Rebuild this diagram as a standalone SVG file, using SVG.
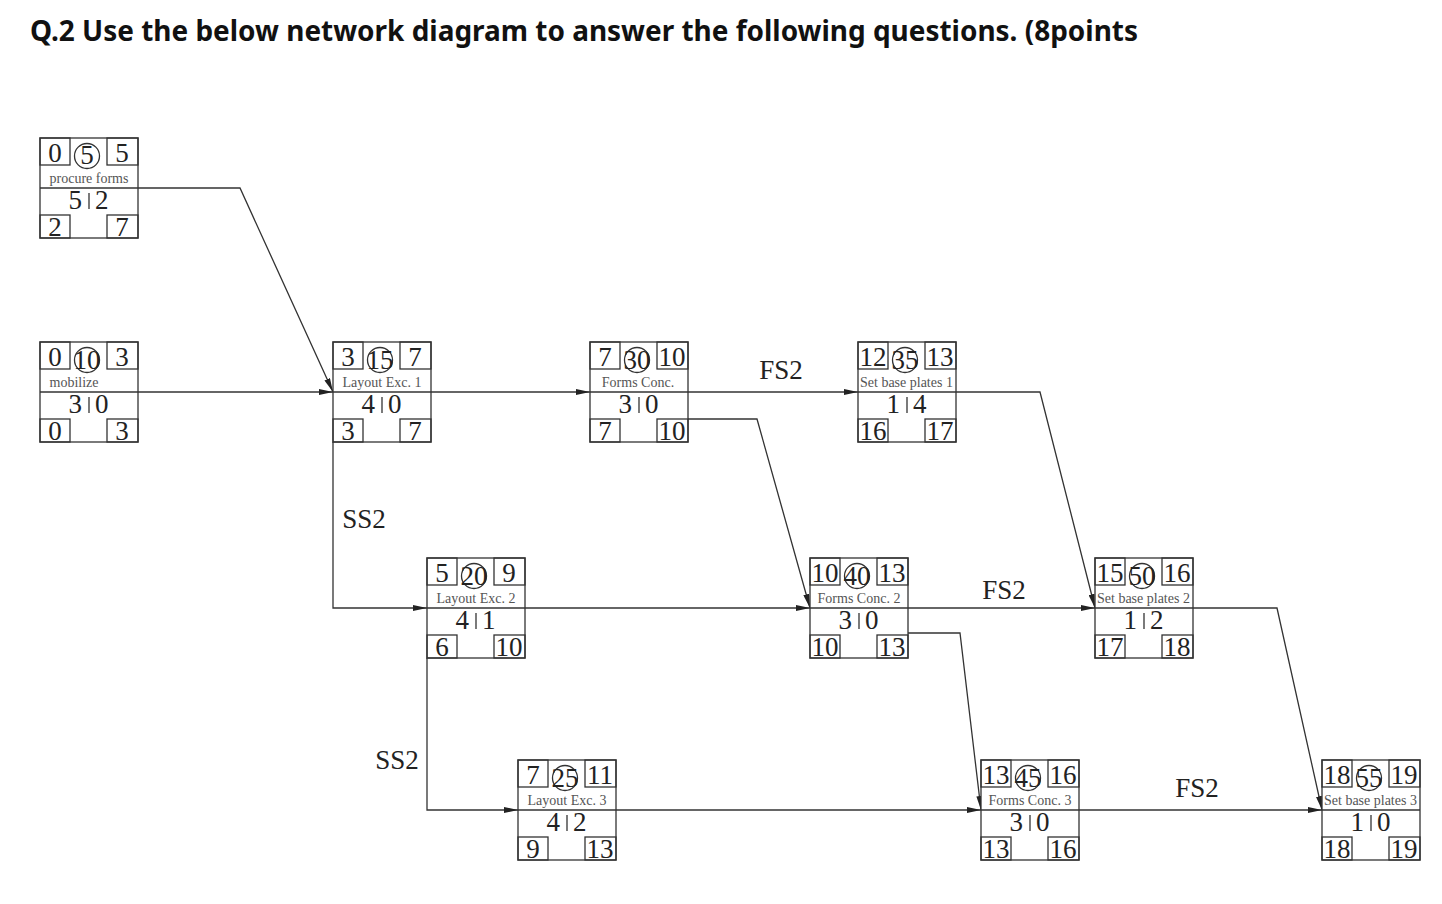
<svg xmlns="http://www.w3.org/2000/svg" width="1442" height="904" viewBox="0 0 1442 904">
<style>
.fr{fill:#fff;stroke:#333;stroke-width:1.3}
.bx{fill:none;stroke:#333;stroke-width:1.3}
.ln{stroke:#333;stroke-width:1.3}
.n{font-family:"Liberation Serif",serif;font-size:27px;fill:#222}
.ne{font-family:"Liberation Serif",serif;font-size:27px;fill:#222;text-anchor:end}
.c{font-family:"Liberation Serif",serif;font-size:27px;fill:#222;text-anchor:middle}
.lb{font-family:"Liberation Serif",serif;font-size:14px;fill:#555;text-anchor:middle}
.lbs{font-family:"Liberation Serif",serif;font-size:14px;fill:#555;text-anchor:start}
.cn{fill:none;stroke:#333;stroke-width:1.3}
.tag{font-family:"Liberation Serif",serif;font-size:27px;fill:#222;text-anchor:middle}
.title{font-family:"Noto Sans","Open Sans",sans-serif;font-weight:bold;font-size:28px;fill:#111}
</style>
<defs>
<marker id="ar" viewBox="0 0 14 6" refX="14" refY="3" markerWidth="14" markerHeight="6" markerUnits="userSpaceOnUse" orient="auto">
<path d="M0,0 L14,3 L0,6 Z" fill="#222"/>
</marker>
<clipPath id="cl" clipPathUnits="userSpaceOnUse"><rect x="0" y="27" width="97" height="23"/></clipPath>
<g id="frame">
<rect class="fr" x="0" y="0" width="98" height="100"/>
<rect class="bx" x="0" y="0" width="30" height="27"/>
<rect class="bx" x="67" y="0" width="31" height="27"/>
<circle class="bx" cx="47" cy="18" r="12.5"/>
<line class="ln" x1="0" y1="50" x2="98" y2="50"/>
<line class="ln" x1="49" y1="55" x2="49" y2="71"/>
<rect class="bx" x="0" y="77" width="30" height="23"/>
<rect class="bx" x="67" y="77" width="31" height="23"/>
</g>
</defs>
<rect width="1442" height="904" fill="#fff"/>
<text class="title" x="30" y="41" textLength="1108" lengthAdjust="spacingAndGlyphs">Q.2 Use the below network diagram to answer the following questions. (8points</text>

<g id="connectors">
<polyline class="cn" points="138,188 240,188 333,392" marker-end="url(#ar)"/>
<line class="cn" x1="138" y1="392" x2="333" y2="392" marker-end="url(#ar)"/>
<line class="cn" x1="431" y1="392" x2="590" y2="392" marker-end="url(#ar)"/>
<line class="cn" x1="688" y1="392" x2="858" y2="392" marker-end="url(#ar)"/>
<polyline class="cn" points="956,392 1040,392 1095,608" marker-end="url(#ar)"/>
<polyline class="cn" points="688,419 757,419 810,608" marker-end="url(#ar)"/>
<polyline class="cn" points="333,442 333,608 427,608" marker-end="url(#ar)"/>
<line class="cn" x1="525" y1="608" x2="810" y2="608" marker-end="url(#ar)"/>
<line class="cn" x1="908" y1="608" x2="1095" y2="608" marker-end="url(#ar)"/>
<polyline class="cn" points="908,633 960,633 981,810" marker-end="url(#ar)"/>
<polyline class="cn" points="427,658 427,810 518,810" marker-end="url(#ar)"/>
<line class="cn" x1="616" y1="810" x2="981" y2="810" marker-end="url(#ar)"/>
<polyline class="cn" points="1193,608 1277,608 1322,810" marker-end="url(#ar)"/>
<line class="cn" x1="1079" y1="810" x2="1322" y2="810" marker-end="url(#ar)"/>
<text class="tag" x="781" y="379">FS2</text>
<text class="tag" x="364" y="528">SS2</text>
<text class="tag" x="1004" y="599">FS2</text>
<text class="tag" x="397" y="769">SS2</text>
<text class="tag" x="1197" y="797">FS2</text>
</g>

<g id="n5" transform="translate(40,138)">
<use href="#frame"/>
<text class="c" x="15" y="24">0</text><text class="c" x="47" y="26" font-size="21">5</text><text class="c" x="82" y="24">5</text>
<text class="lb" x="49" y="45" clip-path="url(#cl)">procure forms</text>
<text class="ne" x="42" y="71">5</text><text class="n" x="55" y="71">2</text>
<text class="c" x="15" y="98">2</text><text class="c" x="82" y="98">7</text>
</g>

<g id="n10" transform="translate(40,342)">
<use href="#frame"/>
<text class="c" x="15" y="24">0</text><text class="c" x="47" y="27">10</text><text class="c" x="82" y="24">3</text>
<text class="lb" x="34" y="45" clip-path="url(#cl)">mobilize</text>
<text class="ne" x="42" y="71">3</text><text class="n" x="55" y="71">0</text>
<text class="c" x="15" y="98">0</text><text class="c" x="82" y="98">3</text>
</g>

<g id="n15" transform="translate(333,342)">
<use href="#frame"/>
<text class="c" x="15" y="24">3</text><text class="c" x="47" y="27">15</text><text class="c" x="82" y="24">7</text>
<text class="lb" x="49" y="45" clip-path="url(#cl)">Layout Exc. 1</text>
<text class="ne" x="42" y="71">4</text><text class="n" x="55" y="71">0</text>
<text class="c" x="15" y="98">3</text><text class="c" x="82" y="98">7</text>
</g>

<g id="n30" transform="translate(590,342)">
<use href="#frame"/>
<text class="c" x="15" y="24">7</text><text class="c" x="47" y="27">30</text><text class="c" x="82" y="24">10</text>
<text class="lb" x="48" y="45" clip-path="url(#cl)">Forms Conc.</text>
<text class="ne" x="42" y="71">3</text><text class="n" x="55" y="71">0</text>
<text class="c" x="15" y="98">7</text><text class="c" x="82" y="98">10</text>
</g>

<g id="n35" transform="translate(858,342)">
<use href="#frame"/>
<text class="c" x="15" y="24">12</text><text class="c" x="47" y="27">35</text><text class="c" x="82" y="24">13</text>
<text class="lbs" x="2" y="45" clip-path="url(#cl)">Set base plates 1</text>
<text class="ne" x="42" y="71">1</text><text class="n" x="55" y="71">4</text>
<text class="c" x="15" y="98">16</text><text class="c" x="82" y="98">17</text>
</g>

<g id="n20" transform="translate(427,558)">
<use href="#frame"/>
<text class="c" x="15" y="24">5</text><text class="c" x="47" y="27">20</text><text class="c" x="82" y="24">9</text>
<text class="lb" x="49" y="45" clip-path="url(#cl)">Layout Exc. 2</text>
<text class="ne" x="42" y="71">4</text><text class="n" x="55" y="71">1</text>
<text class="c" x="15" y="98">6</text><text class="c" x="82" y="98">10</text>
</g>

<g id="n40" transform="translate(810,558)">
<use href="#frame"/>
<text class="c" x="15" y="24">10</text><text class="c" x="47" y="27">40</text><text class="c" x="82" y="24">13</text>
<text class="lb" x="49" y="45" clip-path="url(#cl)">Forms Conc. 2</text>
<text class="ne" x="42" y="71">3</text><text class="n" x="55" y="71">0</text>
<text class="c" x="15" y="98">10</text><text class="c" x="82" y="98">13</text>
</g>

<g id="n50" transform="translate(1095,558)">
<use href="#frame"/>
<text class="c" x="15" y="24">15</text><text class="c" x="47" y="27">50</text><text class="c" x="82" y="24">16</text>
<text class="lbs" x="2" y="45" clip-path="url(#cl)">Set base plates 2</text>
<text class="ne" x="42" y="71">1</text><text class="n" x="55" y="71">2</text>
<text class="c" x="15" y="98">17</text><text class="c" x="82" y="98">18</text>
</g>

<g id="n25" transform="translate(518,760)">
<use href="#frame"/>
<text class="c" x="15" y="24">7</text><text class="c" x="47" y="27">25</text><text class="c" x="82" y="24">11</text>
<text class="lb" x="49" y="45" clip-path="url(#cl)">Layout Exc. 3</text>
<text class="ne" x="42" y="71">4</text><text class="n" x="55" y="71">2</text>
<text class="c" x="15" y="98">9</text><text class="c" x="82" y="98">13</text>
</g>

<g id="n45" transform="translate(981,760)">
<use href="#frame"/>
<text class="c" x="15" y="24">13</text><text class="c" x="47" y="27">45</text><text class="c" x="82" y="24">16</text>
<text class="lb" x="49" y="45" clip-path="url(#cl)">Forms Conc. 3</text>
<text class="ne" x="42" y="71">3</text><text class="n" x="55" y="71">0</text>
<text class="c" x="15" y="98">13</text><text class="c" x="82" y="98">16</text>
</g>

<g id="n55" transform="translate(1322,760)">
<use href="#frame"/>
<text class="c" x="15" y="24">18</text><text class="c" x="47" y="27">55</text><text class="c" x="82" y="24">19</text>
<text class="lbs" x="2" y="45" clip-path="url(#cl)">Set base plates 3</text>
<text class="ne" x="42" y="71">1</text><text class="n" x="55" y="71">0</text>
<text class="c" x="15" y="98">18</text><text class="c" x="82" y="98">19</text>
</g>
</svg>
